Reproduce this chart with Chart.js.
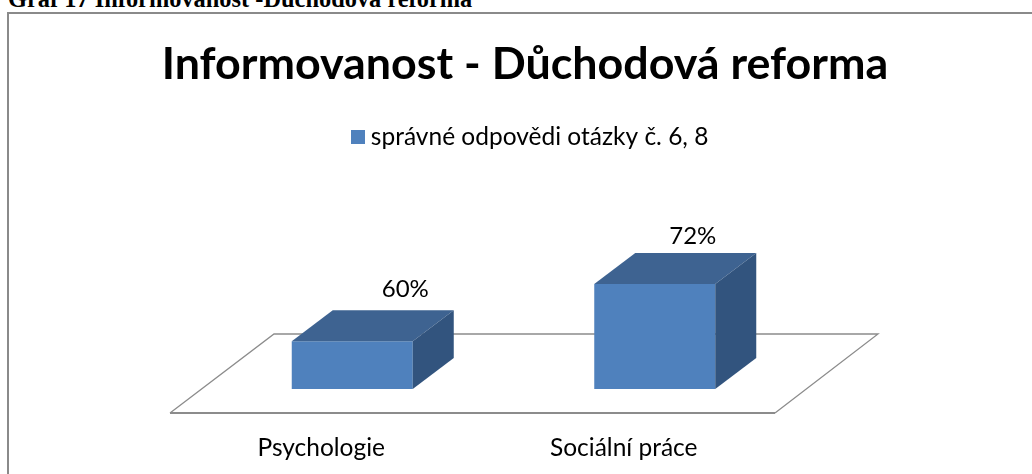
<!DOCTYPE html>
<html><head><meta charset="utf-8">
<style>
html,body{margin:0;padding:0;background:#fff;width:1032px;height:474px;overflow:hidden}
#cap{position:absolute;left:8px;top:-15px;font:bold 24.4px "Liberation Serif",serif;color:#000;white-space:nowrap}
#frame{position:absolute;left:7px;top:12px;width:1100px;height:600px;border:2px solid #8a8a8a;box-sizing:border-box}
#wrap{position:absolute;left:0;top:0;width:1050px;height:474px}
</style>
<script src="https://cdn.jsdelivr.net/npm/chart.js@4"></script>
</head><body>
<div id="cap">Graf 17 Informovanost -Důchodová reforma</div>
<div id="frame"></div>
<div id="wrap"><canvas id="c" width="1050" height="474"></canvas></div>
<script>
const categories = ["Psychologie", "Sociální práce"];
const seriesName = "správné odpovědi otázky č. 6, 8";
const values = [60, 72];
const titleText = "Informovanost - Důchodová reforma";

const FONT = "Lato, Carlito, sans-serif";
const depth = {dx: 41, dy: -31};
const labelShift = [[53, -21], [38, -17]];

const swatch = document.createElement("canvas");
swatch.width = 14; swatch.height = 14;
const sc = swatch.getContext("2d");
sc.fillStyle = "#4F81BD"; sc.fillRect(0, 0, 14, 14);

const box3d = {
  id: "box3d",
  afterLayout(chart) {
    const t = chart.titleBlock, l = chart.legend;
    t.left = 0; t.right = 1050;
    l.left += 29.5; l.right += 29.5;
  },
  beforeDatasetsDraw(chart) {
    const a = chart.chartArea, c = chart.ctx;
    c.save();
    c.strokeStyle = "#8c8c8c";
    c.lineWidth = 1.3;
    c.beginPath();
    c.moveTo(a.right - 31, a.bottom + 24);
    c.lineTo(a.right + 72, a.bottom - 55);
    c.lineTo(a.left + 73, a.bottom - 55);
    c.lineTo(a.left - 31, a.bottom + 24);
    c.stroke();
    c.lineWidth = 2;
    c.beginPath();
    c.moveTo(a.left - 31, a.bottom + 24);
    c.lineTo(a.right - 31, a.bottom + 24);
    c.stroke();
    c.restore();
  },
  afterDatasetsDraw(chart) {
    const c = chart.ctx, bt = chart.chartArea.bottom;
    chart.getDatasetMeta(0).data.forEach((b, i) => {
      const hw = b.width / 2, l = b.x - hw, r = b.x + hw, t = b.y;
      c.save();
      c.fillStyle = "#3E6391";
      c.beginPath();
      c.moveTo(l, t); c.lineTo(l + depth.dx, t + depth.dy);
      c.lineTo(r + depth.dx, t + depth.dy); c.lineTo(r, t); c.closePath(); c.fill();
      c.fillStyle = "#32547E";
      c.beginPath();
      c.moveTo(r, t); c.lineTo(r + depth.dx, t + depth.dy);
      c.lineTo(r + depth.dx, bt + depth.dy); c.lineTo(r, bt); c.closePath(); c.fill();
      c.fillStyle = "#000";
      c.font = "24px " + FONT;
      c.textAlign = "center";
      c.textBaseline = "middle";
      c.fillText(values[i] + "%", b.x + labelShift[i][0], t + depth.dy + labelShift[i][1]);
      c.restore();
    });
  }
};

new Chart(document.getElementById("c"), {
  type: "bar",
  data: {
    labels: categories,
    datasets: [{label: seriesName, data: values, backgroundColor: "#4F81BD", borderWidth: 0,
                 barPercentage: 0.8, categoryPercentage: 0.5}]
  },
  options: {
    responsive: false,
    animation: false,
    layout: {padding: {left: 201, right: 244, top: 0, bottom: 0}},
    plugins: {
      title: {display: true, text: titleText, color: "#000",
              font: {family: FONT, size: 44.8, weight: "bold"}, padding: {top: 37.5, bottom: 31.2}},
      legend: {position: "top", labels: {usePointStyle: true, pointStyle: swatch, pointStyleWidth: 1,
              boxHeight: 14, color: "#000", font: {family: FONT, size: 24.5}, padding: 2.25}},
      tooltip: {enabled: false}
    },
    scales: {
      x: {grid: {display: false, drawTicks: false}, border: {display: false},
          afterFit(s) { s.height = 85; },
          ticks: {color: "#000", font: {family: FONT, size: 24.5}, padding: 44, labelOffset: -31, maxRotation: 0}},
      y: {display: false, min: 50, max: 98.2}
    }
  },
  plugins: [box3d]
});
</script>
</body></html>
